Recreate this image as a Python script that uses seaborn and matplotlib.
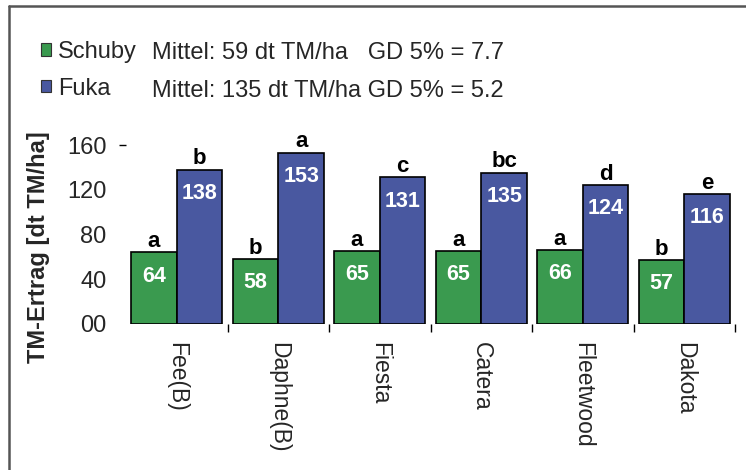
import numpy as np
import pandas as pd
import matplotlib
matplotlib.use("Agg")
import matplotlib.pyplot as plt
import matplotlib.patches as mpatches
from matplotlib.lines import Line2D
import seaborn as sns

# data
sorten = ["Fee(B)", "Daphne(B)", "Fiesta", "Catera", "Fleetwood", "Dakota"]
schuby = [64, 58, 65, 65, 66, 57]
fuka = [138, 153, 131, 135, 124, 116]
schuby_letters = ["a", "b", "a", "a", "a", "b"]
fuka_letters = ["b", "a", "c", "bc", "d", "e"]
standorte = ["Schuby", "Fuka"]
stats = ["Mittel: 59 dt TM/ha   GD 5% = 7.7", "Mittel: 135 dt TM/ha GD 5% = 5.2"]
yticks = [0, 40, 80, 120, 160]
ytick_labels = ["00", "40", "80", "120", "160"]

GREEN = "#3a9a4f"
BLUE = "#4958a0"

sns.set_theme(style="white")
plt.rcParams["font.family"] = ["Liberation Sans", "DejaVu Sans"]

df = pd.DataFrame({
    "Sorte": sorten * 2,
    "Standort": [standorte[0]] * len(sorten) + [standorte[1]] * len(sorten),
    "Ertrag": schuby + fuka,
})

fig = plt.figure(figsize=(7.46, 4.70), dpi=100)
ax = fig.add_axes([126 / 746, 1 - 324 / 470, 609 / 746, 179 / 470])

sns.barplot(data=df, x="Sorte", y="Ertrag", hue="Standort", order=sorten,
            hue_order=standorte, palette=[GREEN, BLUE], width=0.9,
            edgecolor="black", linewidth=1.2, saturation=1, ax=ax)

ax.set_ylim(0, 160)
ax.set_xlim(-0.5, len(sorten) - 0.5)
for s in ax.spines.values():
    s.set_visible(False)

# y axis (only the 160 position carries a small tick mark)
ax.yaxis.remove_overlapping_locs = False
ax.set_yticks(yticks)
ax.set_yticklabels(ytick_labels, fontsize=17)
ax.set_yticks([160], minor=True)
ax.tick_params(axis="y", which="major", length=0, pad=14)
ax.tick_params(axis="y", which="minor", length=5, width=1, color="black",
               direction="out", left=True)
ax.set_ylabel("TM-Ertrag [dt TM/ha]", fontsize=17, fontweight="bold")
ax.yaxis.set_label_coords(-0.124, 0.43)

# x axis
ax.set_xticks(range(len(sorten)))
ax.set_xticklabels(sorten, rotation=-90, fontsize=16.5, va="top", ha="center")
ax.set_xticks(np.arange(len(sorten)) + 0.5, minor=True)
ax.tick_params(axis="x", which="major", length=0, pad=13)
ax.tick_params(axis="x", which="minor", length=6, width=1, color="black",
               direction="out", bottom=True)
ax.set_xlabel("")

# labels on and above the bars
for cont, vals, letters in zip(ax.containers, [schuby, fuka],
                               [schuby_letters, fuka_letters]):
    for bar, v, l in zip(cont, vals, letters):
        x = bar.get_x() + bar.get_width() / 2
        ax.annotate(str(v), (x, v), xytext=(0, -17), textcoords="offset points",
                    ha="center", va="center", color="white",
                    fontsize=15.5, fontweight="bold")
        ax.annotate(l, (x, v), xytext=(0, 4), textcoords="offset points",
                    ha="center", va="baseline", color="black",
                    fontsize=16, fontweight="bold", annotation_clip=False)

# legend
handles = [mpatches.Patch(facecolor=c, edgecolor="#333333", linewidth=0.8)
           for c in [GREEN, BLUE]]
ax.legend(handles, standorte, loc="upper left",
          bbox_to_anchor=(41 / 746, 1 - 41 / 470), bbox_transform=fig.transFigure,
          frameon=False, fontsize=17, handlelength=0.42, handleheight=0.42,
          handletextpad=0.3, labelspacing=0.62, borderaxespad=0, borderpad=0)
for i, txt in enumerate(stats):
    fig.text(152 / 746, 1 - (53 + 38 * i) / 470, txt, fontsize=17,
             ha="left", va="center")

# outer frame of the figure panel (runs off the right and bottom edge)
fx, fy = 9 / 746, 1 - 6 / 470
fig.add_artist(Line2D([fx, fx], [0, fy], transform=fig.transFigure,
                      color="#555555", linewidth=1.8))
fig.add_artist(Line2D([fx, 1], [fy, fy], transform=fig.transFigure,
                      color="#555555", linewidth=1.8))

plt.savefig("out.png", dpi=100)
plt.close()
